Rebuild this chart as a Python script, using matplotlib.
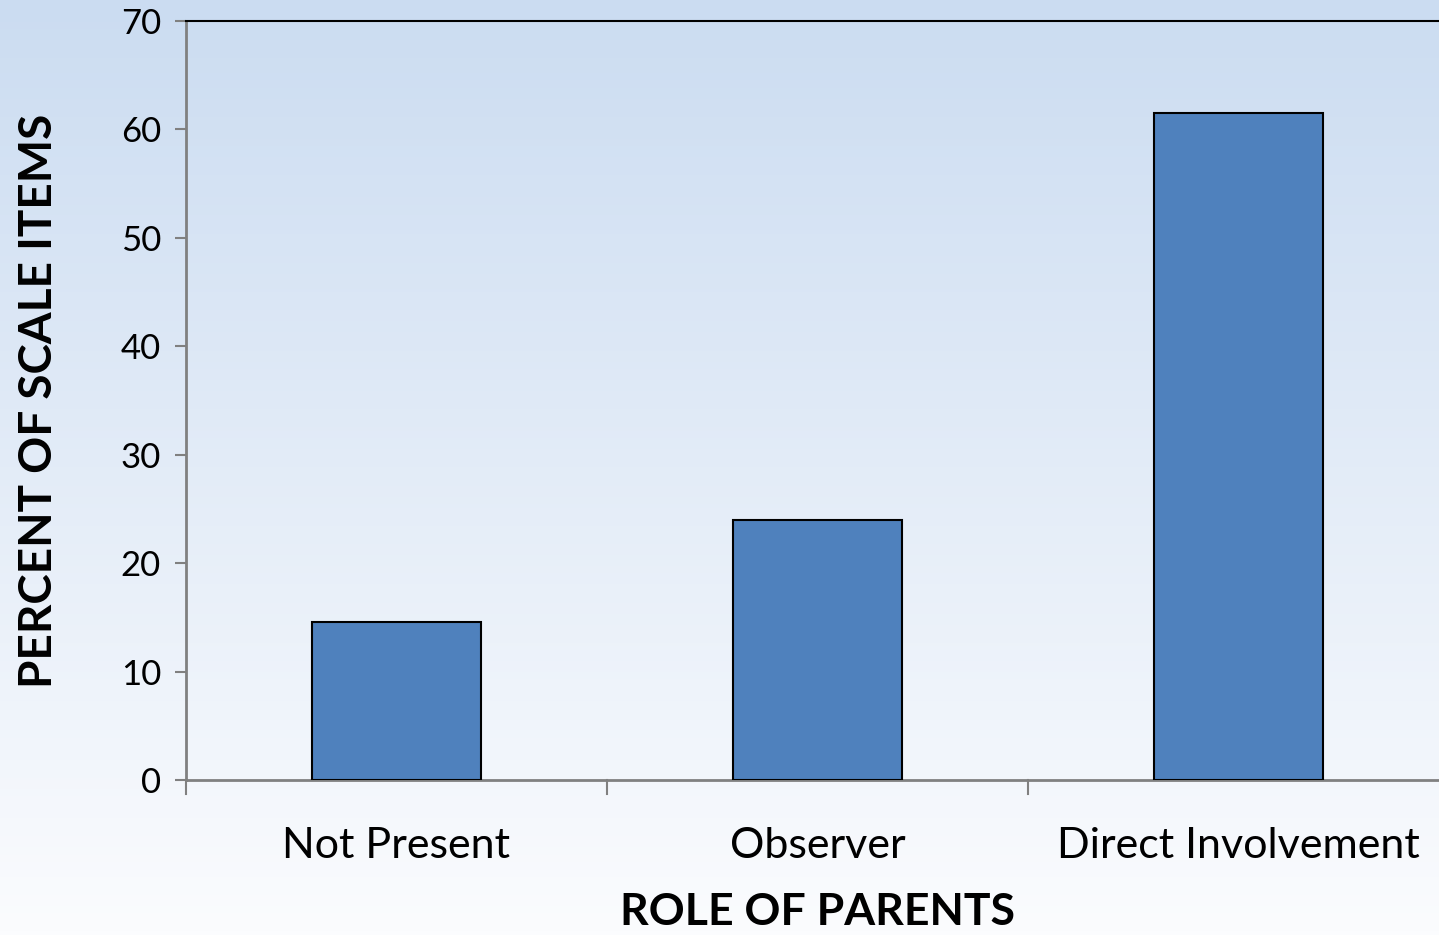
import matplotlib.pyplot as plt
import numpy as np

categories = ['Not Present', 'Observer', 'Direct Involvement']
percent_items = [14.6, 24.0, 61.5]
y_ticks = [0, 10, 20, 30, 40, 50, 60, 70]

plt.rcParams['font.family'] = ['Lato', 'DejaVu Sans']

fig = plt.figure(figsize=(14.39, 9.35), dpi=100)

# gradient background, light blue at top fading to white
bg = fig.add_axes([0, 0, 1, 1], zorder=-10)
top = np.array([203, 220, 241]) / 255
bottom = np.array([251, 252, 254]) / 255
t = np.linspace(0, 1, 256)[:, None]
grad = top * (1 - t) + bottom * t
bg.imshow(grad[:, None, :], aspect='auto', extent=[0, 1, 0, 1])
bg.set_axis_off()

ax = fig.add_axes([186 / 1439, 1 - 780 / 935, 1263 / 1439, 759 / 935])
ax.patch.set_alpha(0)

x = np.arange(len(categories))
ax.bar(x, percent_items, width=0.4, color='#4f81bd', edgecolor='black', linewidth=1.5, zorder=3)

ax.set_xlim(-0.5, 2.5)
ax.set_ylim(0, 70)
ax.set_yticks(y_ticks)
ax.set_yticklabels([str(v) for v in y_ticks], fontsize=25)
ax.set_xticks(x)
ax.set_xticklabels(categories, fontsize=31)
ax.tick_params(axis='x', length=0, pad=34)
ax.tick_params(axis='y', length=8, width=1.5, color='#808080', pad=10)

# category boundary tick marks on the x axis
for b in [-0.5, 0.5, 1.5]:
    ax.plot([b, b], [0, -1.3], color='#808080', lw=1.5, clip_on=False, zorder=4)

ax.spines['left'].set_color('#808080')
ax.spines['left'].set_linewidth(2)
ax.spines['bottom'].set_color('#808080')
ax.spines['bottom'].set_linewidth(2)
ax.spines['top'].set_color('black')
ax.spines['top'].set_linewidth(1.5)
ax.spines['right'].set_visible(False)

ax.set_xlabel('ROLE OF PARENTS', fontsize=32, fontweight='bold', labelpad=19)
ax.set_ylabel('PERCENT OF SCALE ITEMS', fontsize=33, fontweight='bold', labelpad=44)

fig.savefig('out.png', dpi=100)
